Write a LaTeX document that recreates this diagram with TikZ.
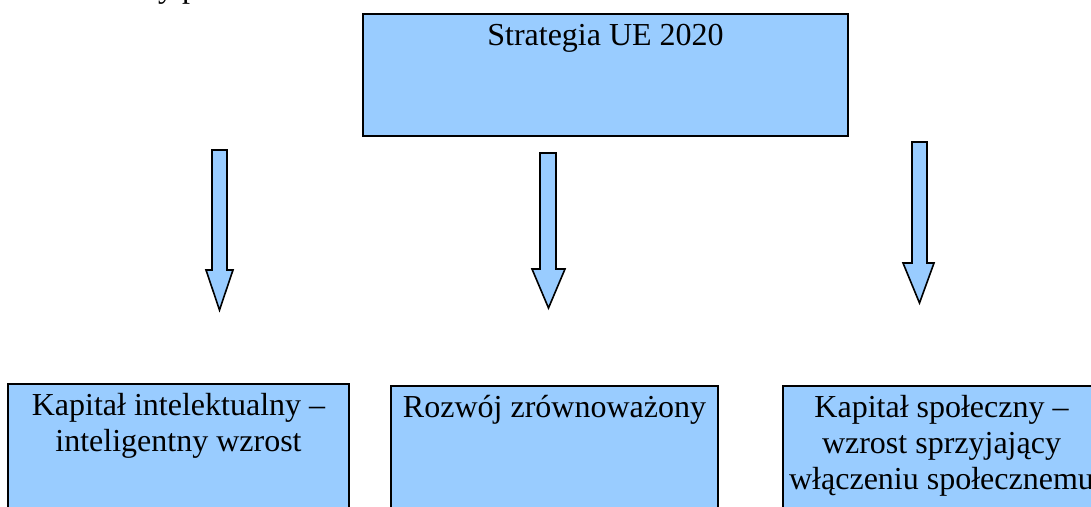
\documentclass[tikz,border=0pt]{standalone}
\usepackage{fontspec}
\setmainfont{Liberation Serif}
\definecolor{boxblue}{HTML}{99CCFF}
\begin{document}
\begin{tikzpicture}[x=1pt,y=-1pt,
  box/.style={draw=black,fill=boxblue,line width=2pt,inner sep=0pt},
  lbl/.style={font=\fontsize{32}{36}\selectfont,inner sep=0pt,align=center,text=black},
  blockarrow/.style={draw=black,fill=boxblue,line width=1.6pt,line join=miter}]
\useasboundingbox (0,0) rectangle (1091,506);
\clip (0,0) rectangle (1091,506);
\fill[white] (0,0) rectangle (1091,506);
% fragment of text cut at top
\node[lbl,anchor=base west] (frag) at (158,-2) {y p};
% top box
\draw[box] (363,14) rectangle (848,136);
\node[lbl,anchor=base] (top) at (605.5,45) {Strategia UE 2020};
% bottom boxes
\draw[box] (8,384) rectangle (349,530);
\node[lbl,anchor=north] (left) at (178.5,393) {Kapitał intelektualny –\\inteligentny wzrost};
\draw[box] (391,386) rectangle (718,530);
\node[lbl,anchor=base] (mid) at (554.5,417) {Rozwój zrównoważony};
\draw[box] (783,386) rectangle (1100,530);
\node[lbl,anchor=north] (right) at (941.5,395) {Kapitał społeczny –\\wzrost sprzyjający\\włączeniu społecznemu};
% block arrows
\draw[blockarrow] (212,150) -- (227,150) -- (227,270) -- (233,270) -- (219.5,310) -- (206,270) -- (212,270) -- cycle;
\draw[blockarrow] (540,153) -- (556,153) -- (556,269) -- (565,269) -- (548.5,308) -- (532,269) -- (540,269) -- cycle;
\draw[blockarrow] (912,142) -- (927,142) -- (927,263) -- (934,263) -- (919.5,303) -- (903,263) -- (912,263) -- cycle;
\end{tikzpicture}
\end{document}
